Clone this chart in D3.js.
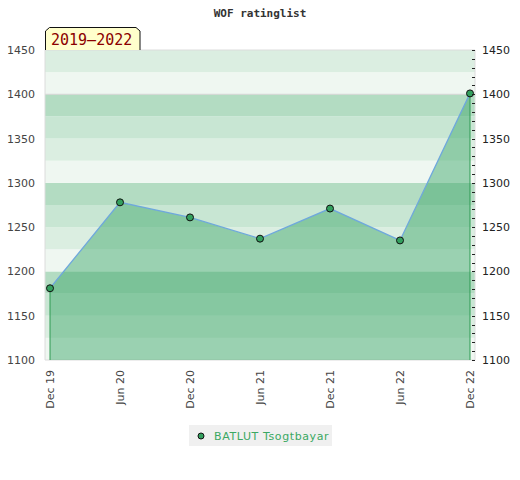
<!DOCTYPE html>
<html>
<head>
<meta charset="utf-8">
<script src="https://cdn.jsdelivr.net/npm/d3@7"></script>
<style>
  body { margin: 0; background: #fff; }
</style>
</head>
<body>
<div id="chart"></div>
<script>
// data
var periods  = ["Dec 19", "Jun 20", "Dec 20", "Jun 21", "Dec 21", "Jun 22", "Dec 22"];
var ratings  = [1181, 1278, 1261, 1237, 1271, 1235, 1401];
var yTicks   = [1100, 1150, 1200, 1250, 1300, 1350, 1400, 1450];
var player   = "BATLUT Tsogtbayar";
var title    = "WOF ratinglist";
var range    = "2019\u20132022";

var chart_width  = 520;
var chart_height = 480;

// plot box (don't use "top" - it's window.top)
var pLeft = 45, pRight = 475, pTop = 50, pBottom = 360;

var svg = d3.select("#chart")
    .append("svg")
    .attr("width", chart_width)
    .attr("height", chart_height);

var x = d3.scalePoint()
    .domain(periods)
    .range([50, 470]);

var y = d3.scaleLinear()
    .domain([1100, 1450])
    .range([pBottom, pTop]);

// background bands, 25 points each
var bandColors = ["#eff7f1", "#dbeee1", "#c8e6d3", "#b3dcc2"];
var bands = d3.range(1100, 1450, 25);
svg.append("g").selectAll("rect")
    .data(bands)
    .enter()
    .append("rect")
    .attr("x", pLeft)
    .attr("width", pRight - pLeft)
    .attr("y", function(d){ return y(d + 25); })
    .attr("height", function(d){ return y(d) - y(d + 25); })
    .attr("fill", function(d){ return bandColors[((d - 1100) / 25) % 4]; });

// faint grid line
svg.append("g").selectAll("line")
    .data([1400])
    .enter()
    .append("line")
    .attr("x1", pLeft).attr("x2", pRight)
    .attr("y1", function(d){ return y(d); })
    .attr("y2", function(d){ return y(d); })
    .attr("stroke", "#d4d4d4");

// plot frame
svg.append("path")
    .attr("d", "M" + pRight + "," + pTop + "H" + pLeft + "V" + pBottom + "H" + pRight + "V" + pTop)
    .attr("fill", "none")
    .attr("stroke", "#dcdcdc");

var pts = periods.map(function(p, i){ return {p: p, v: ratings[i]}; });

var area = d3.area()
    .x(function(d){ return x(d.p); })
    .y0(y(1100))
    .y1(function(d){ return y(d.v); });

svg.append("path")
    .datum(pts)
    .attr("d", area)
    .attr("fill", "rgba(59,166,104,0.47)");

// side edges of the area
svg.append("g").selectAll("line")
    .data([pts[0], pts[pts.length - 1]])
    .enter()
    .append("line")
    .attr("x1", function(d){ return x(d.p); })
    .attr("x2", function(d){ return x(d.p); })
    .attr("y1", function(d){ return y(d.v); })
    .attr("y2", y(1100))
    .attr("stroke", "#2f9a52")
    .attr("stroke-width", 1);

var line = d3.line()
    .x(function(d){ return x(d.p); })
    .y(function(d){ return y(d.v); });

svg.append("path")
    .datum(pts)
    .attr("d", line)
    .attr("fill", "none")
    .attr("stroke", "#6fa8dc")
    .attr("stroke-width", 1.3);

svg.append("g").selectAll("circle")
    .data(pts)
    .enter()
    .append("circle")
    .attr("cx", function(d){ return x(d.p); })
    .attr("cy", function(d){ return y(d.v); })
    .attr("r", 3.5)
    .attr("fill", "#33a05e")
    .attr("stroke", "#111")
    .attr("stroke-width", 1);

// left axis labels
svg.append("g").selectAll("text")
    .data(yTicks)
    .enter()
    .append("text")
    .attr("x", 35)
    .attr("y", function(d){ return y(d) + 4; })
    .attr("text-anchor", "end")
    .attr("font-family", "DejaVu Sans")
    .attr("font-size", 11)
    .attr("fill", "#444")
    .text(function(d){ return d; });

// right axis: minor ticks every 10, labels every 50
svg.append("g").selectAll("line")
    .data(d3.range(1100, 1451, 10))
    .enter()
    .append("line")
    .attr("x1", 472).attr("x2", 475)
    .attr("y1", function(d){ return Math.round(y(d)) + 0.5; })
    .attr("y2", function(d){ return Math.round(y(d)) + 0.5; })
    .attr("stroke", "#222");

svg.append("g").selectAll("text")
    .data(yTicks)
    .enter()
    .append("text")
    .attr("x", 482)
    .attr("y", function(d){ return y(d) + 4; })
    .attr("font-family", "DejaVu Sans")
    .attr("font-size", 11)
    .attr("fill", "#222")
    .text(function(d){ return d; });

// bottom axis, rotated
svg.append("g").selectAll("text")
    .data(periods)
    .enter()
    .append("text")
    .attr("transform", function(d){ return "translate(" + (x(d) + 4) + ",370) rotate(-90)"; })
    .attr("text-anchor", "end")
    .attr("font-family", "DejaVu Sans")
    .attr("font-size", 11)
    .attr("fill", "#444")
    .text(function(d){ return d; });

// title
svg.append("text")
    .attr("x", 260)
    .attr("y", 17)
    .attr("text-anchor", "middle")
    .attr("font-family", "DejaVu Sans Mono")
    .attr("font-weight", "bold")
    .attr("font-size", 11)
    .attr("fill", "#333")
    .text(title);

// range tab
svg.append("path")
    .attr("d", "M45.5,50 V31 L49.5,27.5 H136 L140,31 V50")
    .attr("fill", "#ffffcc")
    .attr("stroke", "#111");
svg.append("text")
    .attr("x", 51)
    .attr("y", 45)
    .attr("font-family", "DejaVu Sans Mono")
    .attr("font-size", 15)
    .attr("fill", "#8b0000")
    .text(range);

// legend
svg.append("rect")
    .attr("x", 189).attr("y", 425)
    .attr("width", 143).attr("height", 21)
    .attr("fill", "#f0f0f0");
svg.append("circle")
    .attr("cx", 201).attr("cy", 436)
    .attr("r", 3)
    .attr("fill", "#33a05e")
    .attr("stroke", "#111");
svg.append("text")
    .attr("x", 214).attr("y", 440)
    .attr("font-family", "DejaVu Sans")
    .attr("font-size", 11)
    .attr("letter-spacing", 0.6)
    .attr("fill", "#3aa862")
    .text(player);
</script>
</body>
</html>
